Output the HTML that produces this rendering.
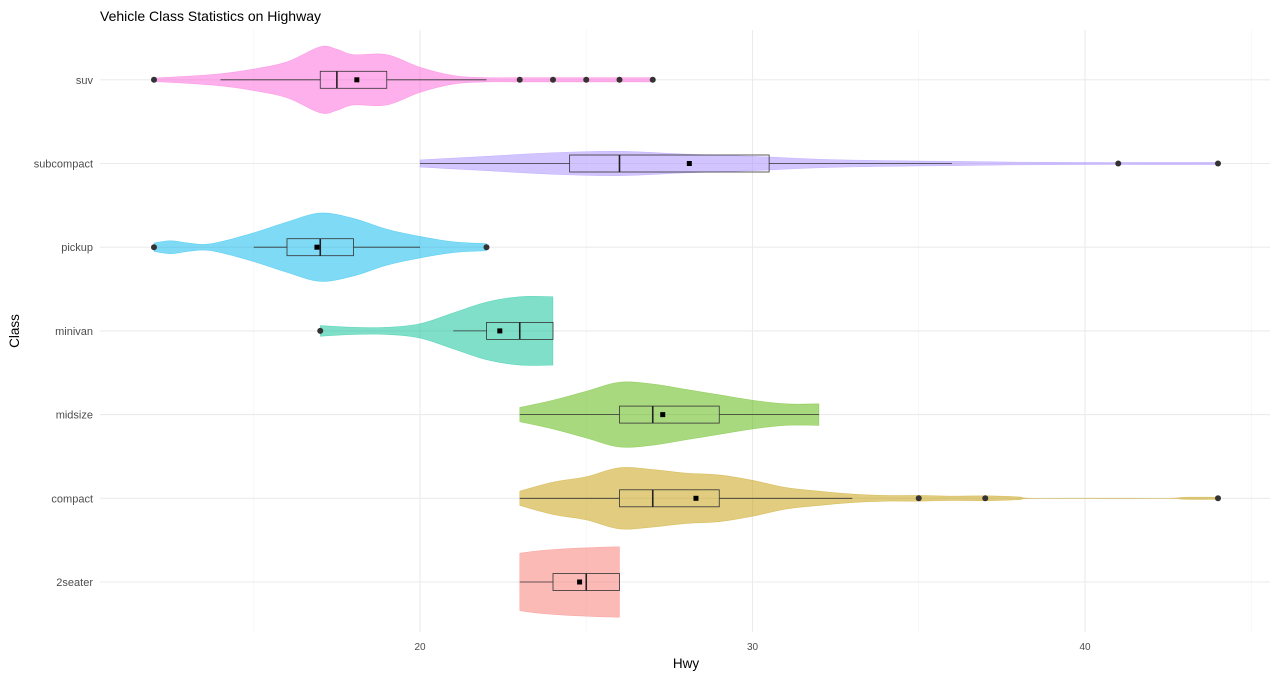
<!DOCTYPE html>
<html><head><meta charset="utf-8"><style>
body{margin:0;background:#fff;font-family:"Liberation Sans",sans-serif;}
svg text{font-family:"Liberation Sans",sans-serif;}
</style></head><body>
<svg id="chart" width="1280" height="677" xmlns="http://www.w3.org/2000/svg">
<text x="100" y="21" font-size="14" fill="#000">Vehicle Class Statistics on Highway</text>
<g id="grid"></g><g id="marks"></g><g id="axes"></g>
<text x="686" y="668" font-size="13.5" text-anchor="middle" fill="#000">Hwy</text>
<text transform="translate(19,331) rotate(-90)" font-size="13.5" text-anchor="middle" fill="#000">Class</text>
</svg>
<script>
const categories = ["2seater","compact","midsize","minivan","pickup","subcompact","suv"];
const colors = ["#F8766D","#C49A00","#53B400","#00C094","#00B6EB","#A58AFF","#FB61D7"];
const densX = [
 [23,23.5,24,24.5,25,25.5,26],
 [23,24,25,26,27,28,29,30,31,32,33,34,35,36,37,38,38.6,42.3,43,44],
 [23,24,25,26,27,28,29,30,31,32],
 [17,18,19,20,21,22,23,24],
 [12,12.5,13,13.5,14,15,16,17,18,19,20,21,22],
 [20,22,24,26,28,30,32,34,36,38,40,42,44],
 [12,13,14,15,16,17,17.5,18,19,20,21,22,23,24,25,26,27]
];
const densW = [
 [0.8,0.86,0.9,0.93,0.95,0.97,0.98],
 [0.2,0.45,0.6,0.85,0.8,0.7,0.65,0.5,0.3,0.2,0.12,0.08,0.08,0.06,0.07,0.04,0.0,0.0,0.03,0.03],
 [0.2,0.4,0.65,0.9,0.85,0.7,0.55,0.4,0.3,0.3],
 [0.15,0.1,0.1,0.2,0.5,0.8,0.95,0.95],
 [0.12,0.18,0.12,0.08,0.15,0.4,0.7,0.95,0.8,0.5,0.3,0.15,0.1],
 [0.1,0.2,0.3,0.34,0.26,0.2,0.12,0.08,0.06,0.04,0.03,0.03,0.03],
 [0.05,0.1,0.17,0.3,0.5,0.92,0.85,0.7,0.7,0.35,0.12,0.06,0.06,0.06,0.06,0.06,0.06]
];
const q1 = [24,26,26,22,16,24.5,17];
const med = [25,27,27,23,17,26,17.5];
const q3 = [26,29,29,24,18,30.5,19];
const whiskLo = [23,23,23,21,15,20,14];
const whiskHi = [26,33,32,24,20,36,22];
const means = [24.8,28.3,27.3,22.4,16.9,28.1,18.1];
const outliers = [[],[35,37,44],[],[17],[12,22],[41,44],[12,23,24,25,26,27]];
const xTicks = [20,30,40];
const xMinor = [15,25,35,45];

const X = v => 420 + (v-20)*33.25;
const Y = i => 582 - i*83.7;
const MAXW = 36;
const NS = "http://www.w3.org/2000/svg";
function mk(parent, tag, attrs){const e=document.createElementNS(NS,tag);for(const k in attrs)e.setAttribute(k,attrs[k]);document.getElementById(parent).appendChild(e);return e;}
function spline(p){let d='';for(let i=0;i<p.length-1;i++){const p0=p[Math.max(i-1,0)],p1=p[i],p2=p[i+1],p3=p[Math.min(i+2,p.length-1)];
 const c1=[p1[0]+(p2[0]-p0[0])/6,p1[1]+(p2[1]-p0[1])/6],c2=[p2[0]-(p3[0]-p1[0])/6,p2[1]-(p3[1]-p1[1])/6];
 d+=` C${c1[0].toFixed(1)},${c1[1].toFixed(1)} ${c2[0].toFixed(1)},${c2[1].toFixed(1)} ${p2[0].toFixed(1)},${p2[1].toFixed(1)}`;}return d;}

xMinor.forEach(v=>{const l=mk('grid','line',{x1:X(v),x2:X(v),y1:30,y2:632,stroke:'#f2f2f2','stroke-width':0.6});

});
xTicks.forEach(v=>{const l=mk('grid','line',{x1:X(v),x2:X(v),y1:30,y2:632,stroke:'#ebebeb','stroke-width':1.1});


const t=mk('axes','text',{x:X(v),y:650,'font-size':10,'text-anchor':'middle',fill:'#4d4d4d'});t.textContent=v;

});
categories.forEach((c,i)=>{const l=mk('grid','line',{x1:100,x2:1270,y1:Y(i),y2:Y(i),stroke:'#ebebeb','stroke-width':1.1});


const t=mk('axes','text',{x:93,y:Y(i)+4,'font-size':11,'text-anchor':'end',fill:'#4d4d4d'});t.textContent=c;

});

categories.forEach((c,i)=>{
 const y=Y(i), xs=densX[i], ws=densW[i];
 const top=xs.map((v,j)=>[X(v),y-ws[j]*MAXW]);
 const bot=xs.map((v,j)=>[X(v),y+ws[j]*MAXW]).reverse();
 const d=`M${X(xs[0])},${y} L${top[0][0]},${top[0][1]}`+spline(top)+` L${bot[0][0]},${bot[0][1]}`+spline(bot)+' Z';
 const vio=mk('marks','path',{d:d,fill:colors[i],'fill-opacity':0.5,stroke:colors[i],'stroke-opacity':0.5,'stroke-width':0.5});
 
 
 const w1=mk('marks','line',{x1:X(whiskLo[i]),x2:X(q1[i]),y1:y,y2:y,stroke:'#333','stroke-width':0.8});
 
 
 const w2=mk('marks','line',{x1:X(q3[i]),x2:X(whiskHi[i]),y1:y,y2:y,stroke:'#333','stroke-width':0.8});
 
 
 const b=mk('marks','rect',{x:X(q1[i]),y:y-8.5,width:X(q3[i])-X(q1[i]),height:17,fill:'none',stroke:'#333','stroke-width':0.8});
 
 
 const m=mk('marks','line',{x1:X(med[i]),x2:X(med[i]),y1:y-8.5,y2:y+8.5,stroke:'#222','stroke-width':1.6});
 
 
 outliers[i].forEach(v=>{const o=mk('marks','circle',{cx:X(v),cy:y,r:3,fill:'#333'});
 
 });
 const mn=mk('marks','rect',{x:X(means[i])-2.5,y:y-2.5,width:5,height:5,fill:'#000'});
 
 
});
</script>
</body></html>
